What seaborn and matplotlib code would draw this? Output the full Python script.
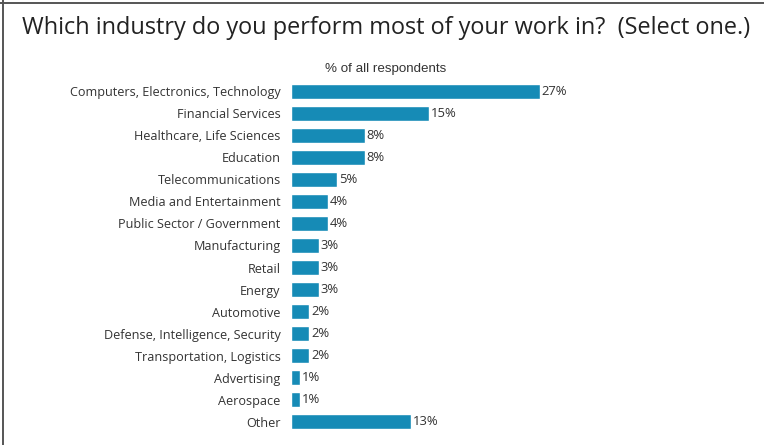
import matplotlib
matplotlib.use("Agg")
import matplotlib.pyplot as plt
from matplotlib.lines import Line2D
import seaborn as sns
import pandas as pd

industries = [
    "Computers, Electronics, Technology",
    "Financial Services",
    "Healthcare, Life Sciences",
    "Education",
    "Telecommunications",
    "Media and Entertainment",
    "Public Sector / Government",
    "Manufacturing",
    "Retail",
    "Energy",
    "Automotive",
    "Defense, Intelligence, Security",
    "Transportation, Logistics",
    "Advertising",
    "Aerospace",
    "Other",
]
share_pct = [27, 15, 8, 8, 5, 4, 4, 3, 3, 3, 2, 2, 2, 1, 1, 13]

df = pd.DataFrame({"industry": industries, "share": share_pct})

sns.set_theme(style="white")
plt.rcParams["font.family"] = ["Open Sans", "DejaVu Sans"]

W, H = 764, 445
fig = plt.figure(figsize=(W / 100, H / 100), dpi=100)
fig.patch.set_facecolor("white")

left_px, right_px, top_px, bottom_px = 291, 740, 80, 433
ax = fig.add_axes([left_px / W, 1 - bottom_px / H,
                   (right_px - left_px) / W, (bottom_px - top_px) / H])

bar_color = "#168bb6"
sns.barplot(data=df, x="share", y="industry", orient="h", color=bar_color,
            width=0.68, saturation=1, ax=ax)

ax.set_xlim(0, (right_px - left_px) / 9.22)
ax.set_ylim(len(industries) - 0.5, -0.5)
ax.set_xlabel("")
ax.set_ylabel("")
ax.set_xticks([])
for s in ax.spines.values():
    s.set_visible(False)
ax.tick_params(axis="y", length=0, pad=7.5, labelsize=9.05, labelcolor="#333333")

ax.bar_label(ax.containers[0], labels=[f"{v}%" for v in share_pct],
             padding=1.2, fontsize=9.4, color="#333333")

fig.text(22 / W, 1 - 28 / H,
         "Which industry do you perform most of your work in?  (Select one.)",
         fontsize=16.9, color="#222222", va="center", ha="left")
fig.text(386 / W, 1 - 69 / H, "% of all respondents",
         fontsize=9.6, color="#333333", va="center", ha="center",
         family=["Liberation Sans", "DejaVu Sans"])

# frame edges along the top and left
fig.add_artist(Line2D([2.5 / W, 2.5 / W], [0, 1], transform=fig.transFigure,
                      color="#555555", lw=1.4))
fig.add_artist(Line2D([0, 1], [1 - 2.5 / H, 1 - 2.5 / H], transform=fig.transFigure,
                      color="#555555", lw=1.4))

fig.savefig("out.png", dpi=100, facecolor="white")
